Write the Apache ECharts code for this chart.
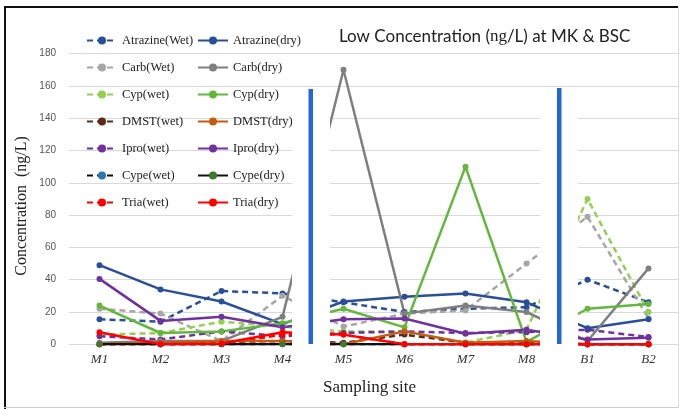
<!DOCTYPE html>
<html>
<head>
<meta charset="utf-8">
<script src="https://cdn.jsdelivr.net/npm/echarts@6/dist/echarts.min.js"></script>
<style>
  html, body { margin: 0; padding: 0; background: #fff; }
  #chart { width: 680px; height: 409px; }
</style>
</head>
<body>
<div id="chart"></div>
<script>
var sites = ['M1', 'M2', 'M3', 'M4', 'M5', 'M6', 'M7', 'M8', 'B1', 'B2'];

var atrazineWet = [15.5, 14, 33, 31.5, 26, 20, 22, 23, 40, 26];
var atrazineDry = [49, 34, 26.5, 12.5, 26.5, 29.5, 31.5, 26, 10, 15.5];
var carbWet = [22, 19, 2, 30, 11, 19, 21, 50, 79, 16];
var carbDry = [1, 2, 2, 17, 170, 19, 24, 20, 2, 47];
var cypWet = [6, 7, 14, 11, 8, 8, 1, 9, 90, 20];
var cypDry = [24, 7, 8, 13, 22, 10.5, 110, 1.5, 22, 25];
var dmstWet = [0, 1, 1.5, 2, 1, 6, 1, 1, 0, 0];
var dmstDry = [0, 1, 2, 2, 0, 8, 1, 2, 0, 0];
var iproWet = [5, 3, 8, 5, 7, 8, 7, 7.5, 9, 4.5];
var iproDry = [40.5, 14.5, 17, 10.5, 15.5, 16, 6.5, 9, 3, 4];
var cypeWet = [0, 0, 0, 0, 0, 0, 0, 0, 0, 0];
var cypeDry = [0, 0, 0, 0, 0, 0, 0, 0, 0, 0];
var triaWet = [0, 0, 0, 6, 6, 0, 0, 0, 0, 0];
var triaDry = [7.5, 0, 0.5, 7.5, 6, 0, 0, 0, 0, 0];

var yTicks = [0, 20, 40, 60, 80, 100, 120, 140, 160, 180];

function line(name, data, color, dashed, dotColor) {
	return {
		name: name,
		type: 'line',
		data: data,
		symbol: 'circle',
		symbolSize: 6,
		lineStyle: { color: color, width: 2.5, type: dashed ? [6, 4] : 'solid' },
		itemStyle: { color: dotColor || color },
		z: 3
	};
}

var series = [
	line('Atrazine(Wet)', atrazineWet, '#2a4f9a', true),
	line('Carb(Wet)', carbWet, '#a6a6a6', true),
	line('Cyp(wet)', cypWet, '#92d050', true),
	line('DMST(wet)', dmstWet, '#5b2b1a', true),
	line('Ipro(wet)', iproWet, '#7030a0', true),
	line('Cype(wet)', cypeWet, '#111111', true, '#2e75b6'),
	line('Tria(wet)', triaWet, '#ff0000', true),
	line('Atrazine(dry)', atrazineDry, '#2a4f9a', false),
	line('Carb(dry)', carbDry, '#7f7f7f', false),
	line('Cyp(dry)', cypDry, '#62b83a', false),
	line('DMST(dry)', dmstDry, '#c55a11', false),
	line('Ipro(dry)', iproDry, '#7030a0', false),
	line('Cype(dry)', cypeDry, '#111111', false, '#3a7a2a'),
	line('Tria(dry)', triaDry, '#ff0000', false)
];

var legendText = { fontFamily: 'Liberation Serif', fontSize: 12.5, color: '#222' };

var chart = echarts.init(document.getElementById('chart'));
chart.setOption({
	animation: false,
	backgroundColor: '#fff',
	title: [{
		text: 'Low Concentration ({s|ng}/L) at MK & BSC',
		left: 334,
		top: 23,
		textStyle: {
			fontFamily: 'Lato',
			fontSize: 17,
			fontWeight: 'normal',
			color: '#222',
			rich: { s: { fontFamily: 'Liberation Serif', fontSize: 17, color: '#222' } }
		}
	}, {
		text: 'Sampling site',
		left: 318,
		top: 374,
		textStyle: { fontFamily: 'Liberation Serif', fontSize: 17, fontWeight: 'normal', color: '#222' }
	}],
	legend: [{
		orient: 'vertical',
		left: 81,
		top: 29,
		itemWidth: 30,
		itemHeight: 10,
		itemGap: 14,
		textStyle: legendText,
		data: series.slice(0, 7).map(function(s){ return s.name; })
	}, {
		orient: 'vertical',
		left: 192,
		top: 29,
		itemWidth: 30,
		itemHeight: 10,
		itemGap: 14,
		textStyle: legendText,
		data: series.slice(7).map(function(s){ return s.name; })
	}],
	grid: { left: 69, right: 1, top: 53.6, bottom: 409 - 344.3 },
	xAxis: {
		type: 'category',
		data: sites,
		boundaryGap: true,
		axisLine: { show: false },
		axisTick: { show: false },
		axisLabel: { fontFamily: 'Liberation Serif', fontStyle: 'italic', fontSize: 13, color: '#333', margin: 9 }
	},
	yAxis: {
		type: 'value',
		min: yTicks[0],
		max: yTicks[yTicks.length - 1],
		interval: 20,
		axisLine: { show: false },
		axisTick: { show: false },
		axisLabel: { fontFamily: 'Liberation Sans', fontSize: 10, color: '#555', margin: 13 },
		splitLine: { lineStyle: { color: '#d9d9d9', width: 1 } }
	},
	graphic: [
		{ type: 'rect', z: 100, shape: { x: 292, y: 87, width: 38, height: 265 }, style: { fill: '#fff' } },
		{ type: 'rect', z: 100, shape: { x: 540, y: 87, width: 38, height: 265 }, style: { fill: '#fff' } },
		{ type: 'rect', z: 101, shape: { x: 308.5, y: 89, width: 4.5, height: 255 }, style: { fill: '#2566d6' } },
		{ type: 'rect', z: 101, shape: { x: 557, y: 88, width: 4.5, height: 256 }, style: { fill: '#2566d6' } },
		{ type: 'text', z: 101, x: 22, y: 206, rotation: Math.PI / 2,
		  style: { text: 'Concentration  (ng/L)', fontFamily: 'Liberation Serif', fontSize: 16, fill: '#222',
		           textAlign: 'center', textVerticalAlign: 'middle' } },
		{ type: 'line', z: 102, shape: { x1: 5, y1: 6, x2: 5, y2: 409 }, style: { stroke: '#111', lineWidth: 2 } },
		{ type: 'line', z: 102, shape: { x1: 4, y1: 7, x2: 678, y2: 7 }, style: { stroke: '#111', lineWidth: 2 } },
		{ type: 'line', z: 102, shape: { x1: 4, y1: 407.5, x2: 678, y2: 407.5 }, style: { stroke: '#ccc', lineWidth: 1 } },
		{ type: 'line', z: 102, shape: { x1: 678.5, y1: 7, x2: 678.5, y2: 408 }, style: { stroke: '#ddd', lineWidth: 1 } }
	],
	series: series
});
</script>
</body>
</html>
